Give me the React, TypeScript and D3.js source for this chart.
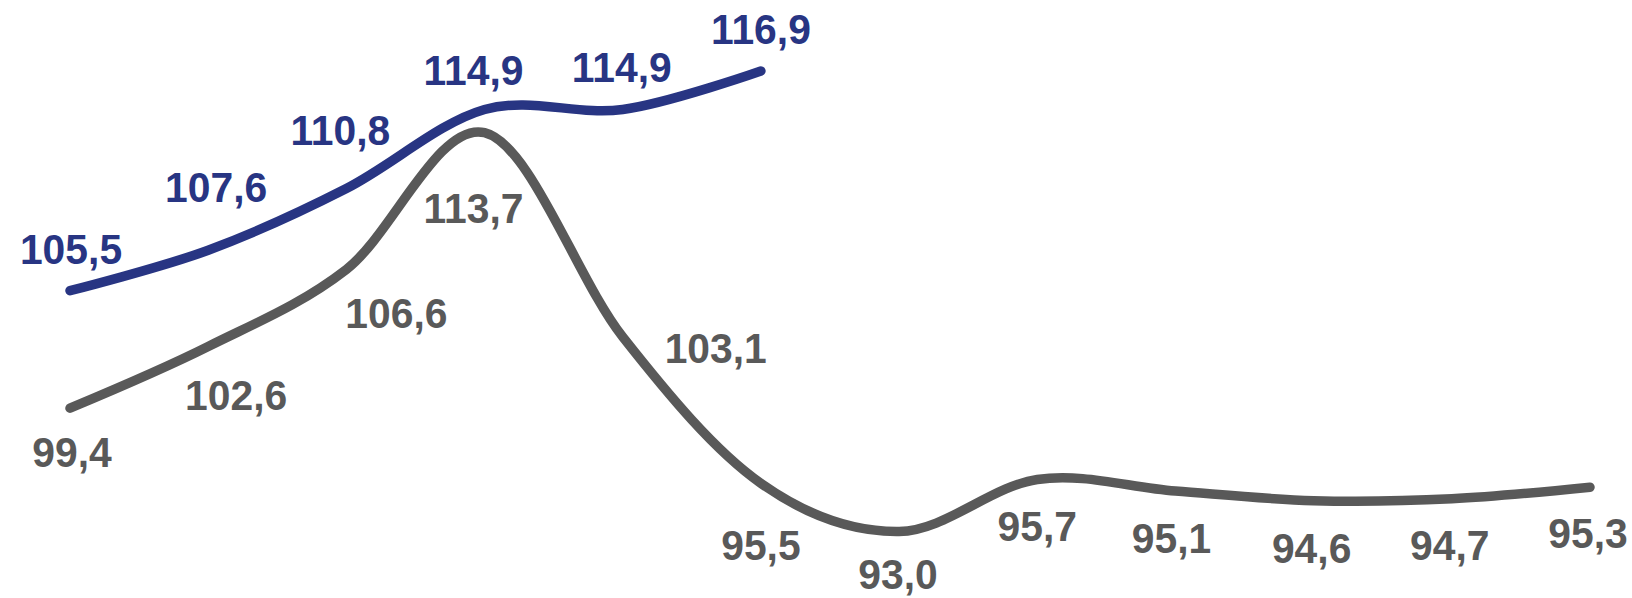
import React from "react";
import * as d3 from "d3";

const categories = ["1", "2", "3", "4", "5", "6", "7", "8", "9", "10", "11", "12"];
const greySeries = [99.4, 102.6, 106.6, 113.7, 103.1, 95.5, 93.0, 95.7, 95.1, 94.6, 94.7, 95.3];
const blueSeries = [105.5, 107.6, 110.8, 114.9, 114.9, 116.9];

// label placement offsets (layout only)
const greyLabelOffsets: [number, number][] = [
  [2, 59], [28, 63], [50, 59], [-11, 90], [93, 26], [0, 77],
  [-1, 57], [0, 62], [-4, 62], [-2, 62], [-2, 61], [-2, 61],
];
const blueLabelOffsets: [number, number][] = [
  [1, -27], [8, -48], [-6, -44], [-11, -25], [-1, -28], [0, -27],
];

const W = 1632;
const H = 598;
const GREY = "#595959";
const BLUE = "#283583";

const locale = d3.formatLocale({ decimal: ",", thousands: " ", grouping: [3], currency: ["", ""] });
const fmt = locale.format(".1f");

export default function App() {
  const x = d3.scaleLinear().domain([0, categories.length - 1]).range([70, 1590]);
  const y = d3.scaleLinear().domain([93, 116.9]).range([531.5, 71]);
  const line = d3
    .line<number>()
    .x((_, i) => x(i))
    .y((d) => y(d))
    .curve(d3.curveCardinal.tension(0));

  const font = {
    fontFamily: "'Liberation Sans', Arial, sans-serif",
    fontWeight: 700,
    fontSize: 43,
  } as const;

  const label = (v: number, i: number, off: [number, number], color: string, key: string) => (
    <text
      key={key}
      transform={`translate(${x(i) + off[0]},${y(v) + off[1]}) scale(0.95,1)`}
      textAnchor="middle"
      fill={color}
      {...font}
    >
      {fmt(v)}
    </text>
  );

  return (
    <svg
      width={W}
      height={H}
      viewBox={`0 0 ${W} ${H}`}
      style={{ position: "absolute", left: 0, top: 0, display: "block", background: "#fff" }}
    >
      <path d={line(greySeries) || ""} fill="none" stroke={GREY} strokeWidth={9.5} strokeLinecap="round" strokeLinejoin="round" />
      <path d={line(blueSeries) || ""} fill="none" stroke={BLUE} strokeWidth={9.5} strokeLinecap="round" strokeLinejoin="round" />
      {greySeries.map((v, i) => label(v, i, greyLabelOffsets[i], GREY, "g" + i))}
      {blueSeries.map((v, i) => label(v, i, blueLabelOffsets[i], BLUE, "b" + i))}
    </svg>
  );
}
